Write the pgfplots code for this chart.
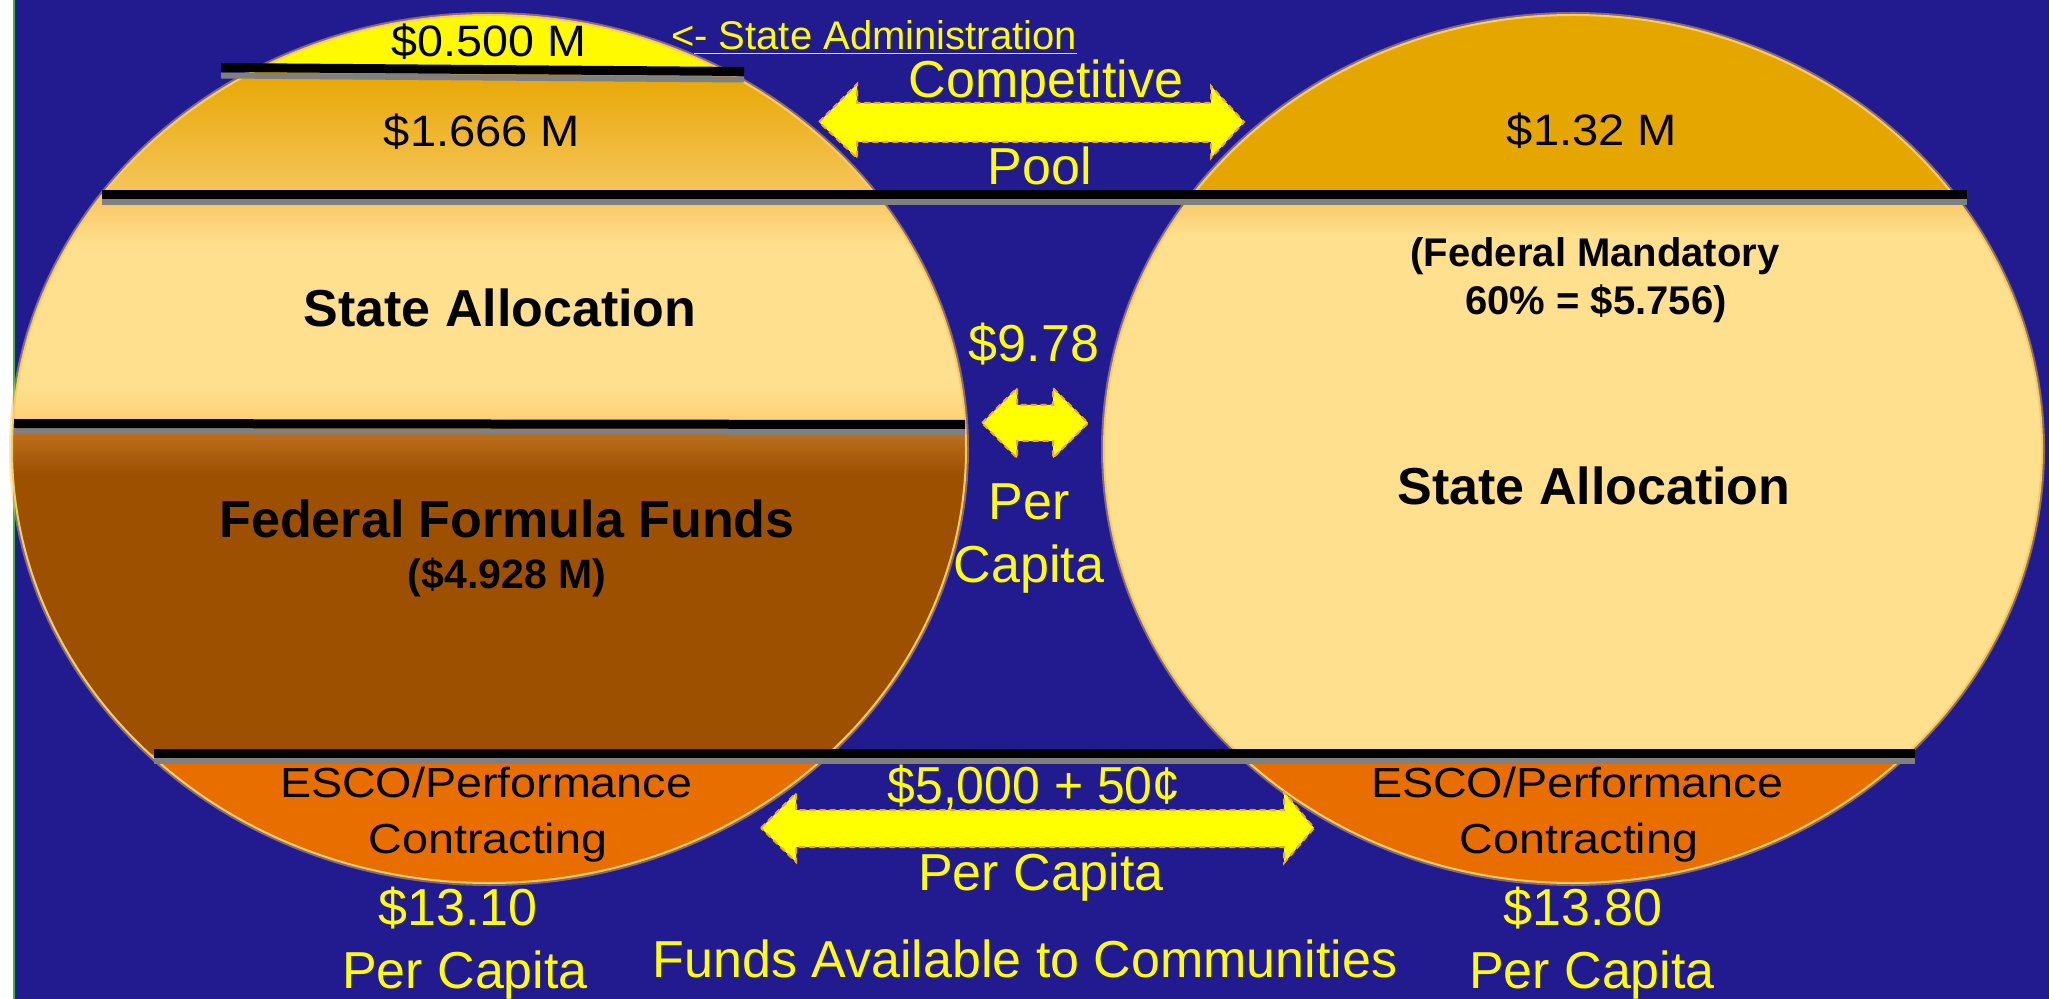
\documentclass[border=0pt]{standalone}
\usepackage{pgfplots}
\pgfplotsset{compat=1.18}
\usepackage{graphicx}
\usepackage{fontspec}
\setmainfont{Liberation Sans}
\definecolor{bg}{RGB}{34,26,143}
\definecolor{capy}{RGB}{255,250,0}
\definecolor{gold}{RGB}{230,166,0}
\definecolor{goldl}{RGB}{246,198,92}
\definecolor{lighty}{RGB}{255,224,142}
\definecolor{peach}{RGB}{249,196,96}
\definecolor{brn}{RGB}{156,80,0}
\definecolor{brnl}{RGB}{196,118,34}
\definecolor{orng}{RGB}{232,110,0}
\definecolor{edge}{RGB}{250,204,96}
\definecolor{arrowedge}{RGB}{240,168,40}
\definecolor{txty}{RGB}{255,255,0}
\definecolor{lgreen}{RGB}{60,180,60}
\newcommand\fs[1]{\fontsize{#1}{#1}\selectfont}
\tikzset{every node/.append style={inner sep=0pt,outer sep=0pt}}
\begin{document}
\begin{tikzpicture}
\begin{axis}[width=1024.5pt,height=499.5pt,scale only axis,
  xmin=0,xmax=2049,ymin=0,ymax=999,y dir=reverse,hide axis,clip=false]
% background
\fill[white] (axis cs:0,0) rectangle (axis cs:13,999);
\fill[bg] (axis cs:13,0) rectangle (axis cs:2049,999);
\addplot[no marks,draw=lgreen,line width=1pt] coordinates {(13.5,0) (13.5,999)};
% left ellipse glow
\draw[edge,opacity=0.45,line width=3pt] (axis cs:489,449) ellipse [x radius=238.5pt, y radius=217pt];
\begin{scope}
\clip (axis cs:489,449) ellipse [x radius=238.5pt, y radius=217pt];
\fill[capy] (axis cs:0,0) rectangle (axis cs:1000,68);
\shade[top color=gold,bottom color=goldl] (axis cs:0,68) rectangle (axis cs:1000,195);
\fill[lighty] (axis cs:0,195) rectangle (axis cs:1000,424);
\shade[top color=peach,bottom color=lighty] (axis cs:0,195) rectangle (axis cs:1000,245);
\shade[top color=lighty,bottom color=peach!60!lighty] (axis cs:0,385) rectangle (axis cs:1000,424);
\fill[brn] (axis cs:0,424) rectangle (axis cs:1000,754);
\shade[top color=brnl,bottom color=brn] (axis cs:0,424) rectangle (axis cs:1000,475);
\fill[orng] (axis cs:0,754) rectangle (axis cs:1000,999);
\end{scope}
\draw[edge,line width=1pt] (axis cs:489,449) ellipse [x radius=238.5pt, y radius=217pt];
% right ellipse
\draw[edge,opacity=0.45,line width=3pt] (axis cs:1573,449) ellipse [x radius=234.5pt, y radius=217pt];
\begin{scope}
\clip (axis cs:1573,449) ellipse [x radius=234.5pt, y radius=217pt];
\fill[gold] (axis cs:1000,0) rectangle (axis cs:2100,195);
\fill[lighty] (axis cs:1000,195) rectangle (axis cs:2100,754);
\shade[top color=peach,bottom color=lighty] (axis cs:1000,195) rectangle (axis cs:2100,235);
\fill[orng] (axis cs:1000,754) rectangle (axis cs:2100,999);
\end{scope}
\draw[edge,line width=1pt] (axis cs:1573,449) ellipse [x radius=234.5pt, y radius=217pt];
% divider lines (gray shadow then black)
\addplot[no marks,draw=gray,line width=3pt] coordinates {(221,75.5) (744,79.5)};
\addplot[no marks,draw=black,line width=4.5pt] coordinates {(221,67.5) (744,71.5)};
\addplot[no marks,draw=gray,line width=3pt] coordinates {(102,202) (1967,202)};
\addplot[no marks,draw=black,line width=4.5pt] coordinates {(102,194.5) (1967,194.5)};
\addplot[no marks,draw=gray,line width=3pt] coordinates {(14,431) (965,432)};
\addplot[no marks,draw=black,line width=4.5pt] coordinates {(14,423.5) (965,424.5)};
\addplot[no marks,draw=gray,line width=3pt] coordinates {(154,761) (1915,761)};
\addplot[no marks,draw=black,line width=4.5pt] coordinates {(154,753.5) (1915,753.5)};
% arrows
\addplot[fill=txty,draw=arrowedge,densely dashed,line width=1pt] coordinates {
 (819,122) (857,84) (857,103) (1211,103) (1211,86) (1244,122) (1211,158) (1211,142) (857,142) (857,158)} --cycle;
\addplot[fill=txty,draw=arrowedge,densely dashed,line width=1pt] coordinates {
 (982,423) (1017,388) (1017,405) (1053,405) (1053,388) (1088,423) (1053,458) (1053,441) (1017,441) (1017,458)} --cycle;
\addplot[fill=txty,draw=arrowedge,densely dashed,line width=1pt] coordinates {
 (761,828) (796,793) (796,810) (1284,810) (1284,792) (1314,828) (1284,863) (1284,847) (796,847) (796,862)} --cycle;
% black labels
\node[anchor=base,font=\fs{22}] at (axis cs:489,57) {\scalebox{1.06}[1]{\$0.500 M}};
\node[anchor=base,font=\fs{22}] at (axis cs:482,147) {\scalebox{1.07}[1]{\$1.666 M}};
\node[anchor=base,font=\fs{22}] at (axis cs:1592,146) {\scalebox{1.07}[1]{\$1.32 M}};
\node[anchor=base,font=\fs{26}\bfseries] at (axis cs:500,327) {State Allocation};
\node[anchor=base,font=\fs{26}\bfseries] at (axis cs:507,538) {Federal Formula Funds};
\node[anchor=base,font=\fs{20.5}\bfseries] at (axis cs:507,588) {(\$4.928 M)};
\node[anchor=base,font=\fs{20}\bfseries] at (axis cs:1595,267) {(Federal Mandatory};
\node[anchor=base,font=\fs{20}\bfseries] at (axis cs:1596,315) {60\% = \$5.756)};
\node[anchor=base,font=\fs{26}\bfseries] at (axis cs:1594,505) {State Allocation};
\node[anchor=base,font=\fs{21}] at (axis cs:486,797) {\scalebox{1.11}[1]{ESCO/Performance}};
\node[anchor=base,font=\fs{21}] at (axis cs:488,853) {\scalebox{1.11}[1]{Contracting}};
\node[anchor=base,font=\fs{21}] at (axis cs:1577,797) {\scalebox{1.11}[1]{ESCO/Performance}};
\node[anchor=base,font=\fs{21}] at (axis cs:1579,853) {\scalebox{1.11}[1]{Contracting}};
% yellow labels
\node[anchor=base,font=\fs{20},text=txty] at (axis cs:874,50) {<\underline{- State Administration}};
\node[anchor=base,font=\fs{26},text=txty] at (axis cs:1046,98) {Competitive};
\node[anchor=base,font=\fs{26},text=txty] at (axis cs:1040,185) {Pool};
\node[anchor=base,font=\fs{26},text=txty] at (axis cs:1034,362) {\$9.78};
\node[anchor=base,font=\fs{26},text=txty] at (axis cs:1029,520) {Per};
\node[anchor=base,font=\fs{26},text=txty] at (axis cs:1029,582) {Capita};
\node[anchor=base,font=\fs{26},text=txty] at (axis cs:1034,803) {\scalebox{0.96}[1]{\$5,000 + 50¢}};
\node[anchor=base,font=\fs{26},text=txty] at (axis cs:1041,890) {Per Capita};
\node[anchor=base,font=\fs{26},text=txty] at (axis cs:458,925) {\$13.10};
\node[anchor=base,font=\fs{26},text=txty] at (axis cs:465,988) {Per Capita};
\node[anchor=base,font=\fs{26},text=txty] at (axis cs:1025,977) {Funds Available to Communities};
\node[anchor=base,font=\fs{26},text=txty] at (axis cs:1583,925) {\$13.80};
\node[anchor=base,font=\fs{26},text=txty] at (axis cs:1592,988) {Per Capita};
\end{axis}
\pgfresetboundingbox
\useasboundingbox (current axis.south west) rectangle (current axis.north east);
\end{tikzpicture}
\end{document}
